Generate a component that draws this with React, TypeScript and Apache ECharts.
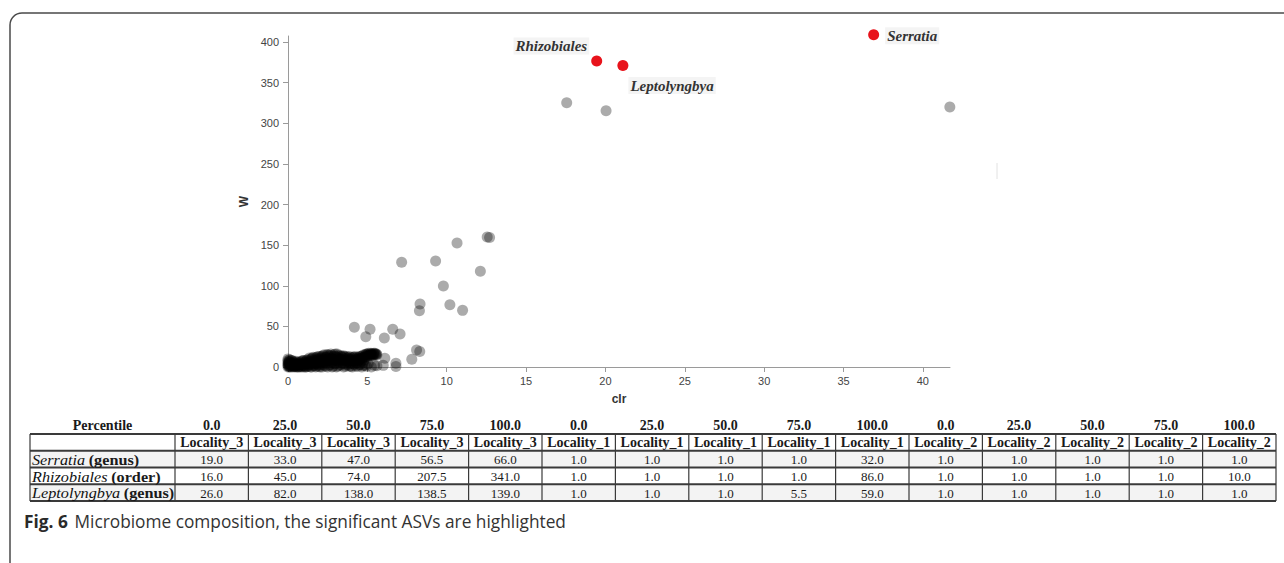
import React, { useEffect, useRef } from "react";
import * as echarts from "echarts";

// ---------- data ----------
// dense low-abundance ASV cluster (clr, W)
const clusterPoints: number[][] = [
  [0, 0], [0, 2], [0, 4], [0, 6], [0, 8], [0, 10], [0.05, 1], [0.05, 5], [0.1, 0], [0.1, 3],
  [0.1, 7], [0.1, 9], [0.15, 2], [0.2, 0], [0.2, 5], [0.25, 8], [0.3, 1], [0.3, 4], [0.35, 0], [0.4, 3],
  [0.4, 6], [0.45, 1], [0.5, 0], [0.5, 4], [0.55, 2], [0.6, 0], [0.6, 6], [0.65, 3], [0.7, 1], [0.75, 5],
  [0.8, 0], [0.8, 3], [0.85, 7], [0.9, 2], [0.95, 0], [1.0, 4], [1.0, 8], [1.05, 1], [1.1, 6], [1.15, 0],
  [1.2, 3], [1.2, 9], [1.25, 5], [1.3, 1], [1.35, 11], [1.4, 7], [1.45, 3], [1.5, 0], [1.5, 10], [1.55, 5],
  [1.6, 12], [1.65, 2], [1.7, 8], [1.75, 0], [1.8, 4], [1.8, 12], [1.85, 10], [1.9, 6], [1.95, 1], [2.0, 13],
  [2.0, 8], [2.05, 3], [2.1, 11], [2.15, 0], [2.2, 6], [2.2, 14], [2.25, 9], [2.3, 2], [2.35, 12], [2.4, 5],
  [2.45, 15], [2.5, 0], [2.5, 10], [2.55, 7], [2.6, 14], [2.65, 3], [2.7, 16], [2.75, 11], [2.8, 6], [2.85, 1],
  [2.9, 15], [2.95, 9], [3.0, 13], [3.0, 4], [3.05, 0], [3.1, 16], [3.15, 7], [3.2, 11], [3.25, 2], [3.3, 14],
  [3.35, 9], [3.4, 5], [3.45, 12], [3.5, 0], [3.55, 13], [3.6, 8], [3.65, 3], [3.7, 11], [3.75, 6], [3.8, 12],
  [3.85, 1], [3.9, 9], [3.95, 4], [4.0, 11], [4.05, 0], [4.1, 7], [4.15, 12], [4.2, 3], [4.25, 10], [4.3, 5],
  [4.35, 12], [4.4, 1], [4.45, 8], [4.5, 13], [4.55, 3], [4.6, 11], [4.65, 0], [4.7, 14], [4.75, 6], [4.8, 12],
  [4.85, 2], [4.9, 15], [4.95, 1], [5.0, 16], [5.05, 4], [5.1, 14], [5.2, 16], [5.25, 0], [5.3, 15], [5.4, 17],
  [5.45, 2], [5.5, 16], [5.6, 15],
];

// more ASVs overlapping inside the dense cluster
const clusterPoints2: number[][] = [
  [0.02, 3], [0.08, 6], [0.12, 1], [0.18, 4], [0.22, 8], [0.28, 2], [0.32, 6], [0.38, 1], [0.42, 4], [0.48, 7],
  [0.52, 1], [0.58, 3], [0.62, 5], [0.68, 0], [0.72, 3], [0.78, 6], [0.82, 1], [0.88, 4], [0.92, 8], [0.98, 2],
  [1.02, 6], [1.08, 0], [1.12, 4], [1.18, 8], [1.22, 1], [1.28, 6], [1.32, 3], [1.38, 9], [1.42, 0], [1.48, 5],
  [1.52, 11], [1.58, 2], [1.62, 8], [1.68, 4], [1.72, 11], [1.78, 1], [1.82, 7], [1.88, 13], [1.92, 3], [1.98, 10],
  [2.02, 0], [2.08, 6], [2.12, 13], [2.18, 3], [2.22, 10], [2.28, 15], [2.32, 6], [2.38, 1], [2.42, 12], [2.48, 8],
  [2.52, 15], [2.58, 2], [2.62, 11], [2.68, 6], [2.72, 14], [2.78, 0], [2.82, 9], [2.88, 13], [2.92, 4], [2.98, 16],
  [3.02, 8], [3.08, 12], [3.12, 1], [3.18, 14], [3.22, 6], [3.28, 10], [3.32, 3], [3.38, 13], [3.42, 8], [3.48, 14],
  [3.52, 4], [3.58, 10], [3.62, 1], [3.68, 13], [3.72, 7], [3.78, 3], [3.82, 10], [3.88, 13], [3.92, 6], [3.98, 1],
  [4.02, 9], [4.08, 12], [4.12, 4], [4.18, 8], [4.22, 13], [4.28, 1], [4.32, 9], [4.38, 6], [4.42, 11], [4.48, 3],
  [4.52, 10], [4.58, 13], [4.62, 7], [4.68, 11], [4.72, 2], [4.78, 15], [4.82, 9], [4.88, 13], [4.92, 16], [4.98, 12],
  [5.02, 15], [5.08, 17], [5.12, 15], [5.18, 14], [5.22, 17], [5.28, 16], [5.32, 14], [5.38, 16], [5.42, 15], [5.48, 17],
  [5.52, 15], [5.58, 16],
];

// scattered mid-range ASVs
const spreadPoints: number[][] = [
  [4.18, 48.8], [5.17, 46.4], [4.9, 37.3], [6.07, 35.7], [6.6, 46.4], [7.06, 40.6],
  [7.16, 128.8], [8.32, 77.5], [8.28, 69.3], [7.8, 9.5], [8.1, 21], [8.3, 19],
  [9.3, 130.5], [9.79, 99.7], [10.65, 152.6], [10.2, 76.7], [11.0, 69.7], [12.12, 117.8],
  [12.55, 160], [12.7, 159.5], [6.1, 10.7], [6.8, 4.5], [6.8, 0.5], [6.0, 2], [5.6, 1.5],
];

// high-abundance, non-significant ASVs
const highPoints: number[][] = [
  [17.56, 325.3], [20.04, 315.5], [41.7, 320],
];

// significant ASVs
const sigNames = ["Rhizobiales", "Leptolyngbya", "Serratia"];
const sigClr = [19.45, 21.1, 36.9];
const sigW = [376.6, 371, 409];

const xTicks = [0, 5, 10, 15, 20, 25, 30, 35, 40];
const yTicks = [0, 50, 100, 150, 200, 250, 300, 350, 400];

// table
const percentiles = ["0.0", "25.0", "50.0", "75.0", "100.0", "0.0", "25.0", "50.0", "75.0", "100.0", "0.0", "25.0", "50.0", "75.0", "100.0"];
const localities = [
  "Locality_3", "Locality_3", "Locality_3", "Locality_3", "Locality_3",
  "Locality_1", "Locality_1", "Locality_1", "Locality_1", "Locality_1",
  "Locality_2", "Locality_2", "Locality_2", "Locality_2", "Locality_2",
];
const taxonNames = ["Serratia", "Rhizobiales", "Leptolyngbya"];
const taxonRanks = ["(genus)", "(order)", "(genus)"];
const serratiaValues = [19.0, 33.0, 47.0, 56.5, 66.0, 1.0, 1.0, 1.0, 1.0, 32.0, 1.0, 1.0, 1.0, 1.0, 1.0];
const rhizobialesValues = [16.0, 45.0, 74.0, 207.5, 341.0, 1.0, 1.0, 1.0, 1.0, 86.0, 1.0, 1.0, 1.0, 1.0, 10.0];
const leptolyngbyaValues = [26.0, 82.0, 138.0, 138.5, 139.0, 1.0, 1.0, 1.0, 5.5, 59.0, 1.0, 1.0, 1.0, 1.0, 1.0];

const captionBold = "Fig. 6";
const captionText = "Microbiome composition, the significant ASVs are highlighted";

// ---------- layout / styles ----------
const WIDTH = 1284;
const HEIGHT = 563;
const SERIF = "'Liberation Serif', 'Times New Roman', serif";
const SANS = "'Liberation Sans', Arial, sans-serif";
const CAPTION_FONT = "'Open Sans', 'Noto Sans', sans-serif";

const labelCfg: Record<string, any> = {
  Rhizobiales: { position: "left", distance: 2, offset: [0, -15] },
  Leptolyngbya: { position: "right", distance: 0, offset: [0, 20] },
  Serratia: { position: "right", distance: 6, offset: [0, 1] },
};

function txt(text: string, x: number, y: number, font: string, align: string) {
  return {
    type: "text",
    x,
    y,
    z: 4,
    style: { text, x: 0, y: 0, align, verticalAlign: "middle", font, fill: "#1a1a1a" },
  };
}

function buildTable() {
  const els: any[] = [];
  const left = 30;
  const right = 1276;
  const firstW = 145;
  const colStart = left + firstW;
  const colW = (right - colStart) / percentiles.length;
  const headY = 425;
  const rowTop = 434;
  const rowH = 16.75;
  const rows = [serratiaValues, rhizobialesValues, leptolyngbyaValues];
  const nRows = 1 + rows.length;
  const HEAD_FONT = `bold 14px ${SERIF}`;
  const CELL_FONT = `13px ${SERIF}`;

  [0, 2].forEach((r) => {
    els.push({
      type: "rect",
      shape: { x: left, y: rowTop + (r + 1) * rowH, width: right - left, height: rowH },
      style: { fill: "#f3f3f3" },
      z: 1,
    });
  });

  for (let i = 0; i <= nRows; i++) {
    els.push({
      type: "line",
      shape: { x1: left, y1: rowTop + i * rowH, x2: right, y2: rowTop + i * rowH },
      style: { stroke: "#3a3a3a", lineWidth: 2 },
      z: 3,
    });
  }
  const xs = [left, colStart];
  for (let c = 1; c <= percentiles.length; c++) xs.push(colStart + c * colW);
  xs.forEach((x) => {
    els.push({
      type: "line",
      shape: { x1: x, y1: rowTop, x2: x, y2: rowTop + nRows * rowH },
      style: { stroke: "#3a3a3a", lineWidth: 1.2 },
      z: 3,
    });
  });

  els.push(txt("Percentile", left + firstW / 2, headY, HEAD_FONT, "center"));
  percentiles.forEach((p, c) => {
    els.push(txt(p, colStart + (c + 0.5) * colW, headY, HEAD_FONT, "center"));
  });
  localities.forEach((l, c) => {
    els.push(txt(l, colStart + (c + 0.5) * colW, rowTop + rowH / 2 + 0.5, HEAD_FONT, "center"));
  });
  rows.forEach((vals, r) => {
    const cy = rowTop + (r + 1.5) * rowH + 0.5;
    els.push({
      type: "text",
      x: left + 2,
      y: cy,
      scaleX: 1.08,
      z: 4,
      style: {
        text: `{i|${taxonNames[r]}} {b|${taxonRanks[r]}}`,
        x: 0, y: 0, align: "left", verticalAlign: "middle",
        rich: {
          i: { fontFamily: SERIF, fontSize: 15, fontStyle: "italic", fill: "#111" },
          b: { fontFamily: SERIF, fontSize: 15, fontWeight: "bold", fill: "#1a1a1a" },
        },
      },
    });
    vals.forEach((v, c) => {
      els.push(txt(v.toFixed(1), colStart + (c + 0.5) * colW, cy, CELL_FONT, "center"));
    });
  });
  return els;
}

function buildOption() {
  const grayData = [...clusterPoints, ...clusterPoints2, ...spreadPoints, ...highPoints];
  const sigData = sigNames.map((n, i) => ({
    name: n,
    value: [sigClr[i], sigW[i]],
    label: {
      show: true,
      formatter: n,
      position: labelCfg[n].position,
      distance: labelCfg[n].distance,
      offset: labelCfg[n].offset,
    },
  }));

  const graphic: any[] = [
    {
      type: "rect",
      shape: { x: 10, y: 13, width: 1300, height: 600, r: [12, 0, 0, 0] },
      style: { fill: "none", stroke: "#4a4a4a", lineWidth: 1.5 },
      z: 0,
    },
    {
      type: "line",
      shape: { x1: 997, y1: 163, x2: 997, y2: 179 },
      style: { stroke: "#e2e2e2", lineWidth: 1 },
    },
    ...buildTable(),
    {
      type: "text",
      x: 24,
      y: 521,
      style: {
        text: `{b|${captionBold}}  {n|${captionText}}`,
        x: 0, y: 0, verticalAlign: "middle",
        rich: {
          b: { fontFamily: CAPTION_FONT, fontSize: 17.3, fontWeight: "bold", fill: "#2a2a2a" },
          n: { fontFamily: CAPTION_FONT, fontSize: 17.3, fill: "#333" },
        },
      },
    },
  ];

  return {
    animation: false,
    backgroundColor: "#ffffff",
    grid: { left: 288, top: 36, right: WIDTH - 950, bottom: HEIGHT - 367 },
    xAxis: {
      type: "value",
      min: 0,
      max: 41.71,
      name: "clr",
      nameLocation: "middle",
      nameGap: 26,
      nameTextStyle: { color: "#333", fontSize: 12, fontWeight: "bold", fontFamily: SANS },
      axisLine: { show: true, lineStyle: { color: "#9a9a9a", width: 1 } },
      axisTick: { show: true, customValues: xTicks, length: 5, lineStyle: { color: "#9a9a9a" } },
      axisLabel: { customValues: xTicks, color: "#444", fontSize: 11, fontFamily: SANS, margin: 8 },
      splitLine: { show: false },
    },
    yAxis: {
      type: "value",
      min: 0,
      max: 407.4,
      name: "W",
      nameLocation: "middle",
      nameGap: 34,
      nameTextStyle: { color: "#333", fontSize: 12, fontWeight: "bold", fontFamily: SANS },
      axisLine: { show: true, lineStyle: { color: "#9a9a9a", width: 1 } },
      axisTick: { show: true, customValues: yTicks, length: 5, lineStyle: { color: "#9a9a9a" } },
      axisLabel: { customValues: yTicks, color: "#444", fontSize: 11, fontFamily: SANS, margin: 9 },
      splitLine: { show: false },
    },
    series: [
      {
        type: "scatter",
        name: "ASVs",
        data: grayData,
        symbolSize: 11,
        clip: false,
        itemStyle: { color: "#000000", opacity: 0.33 },
        emphasis: { disabled: true },
      },
      {
        type: "scatter",
        name: "significant",
        data: sigData,
        symbolSize: 11,
        clip: false,
        itemStyle: { color: "#e8131b", opacity: 1 },
        label: {
          fontFamily: SERIF,
          fontStyle: "italic",
          fontWeight: "bold",
          fontSize: 15,
          color: "#333",
          backgroundColor: "#f4f4f4",
          padding: [1, 2],
        },
        emphasis: { disabled: true },
      },
    ],
    graphic,
  };
}

export default function App() {
  const ref = useRef<HTMLDivElement>(null);
  useEffect(() => {
    if (!ref.current) return;
    const chart = echarts.init(ref.current, null, { renderer: "svg" });
    chart.setOption(buildOption() as any);
    return () => chart.dispose();
  }, []);
  return (
    <div
      ref={ref}
      style={{ position: "fixed", left: 0, top: 0, width: WIDTH, height: HEIGHT, background: "#fff" }}
    />
  );
}
